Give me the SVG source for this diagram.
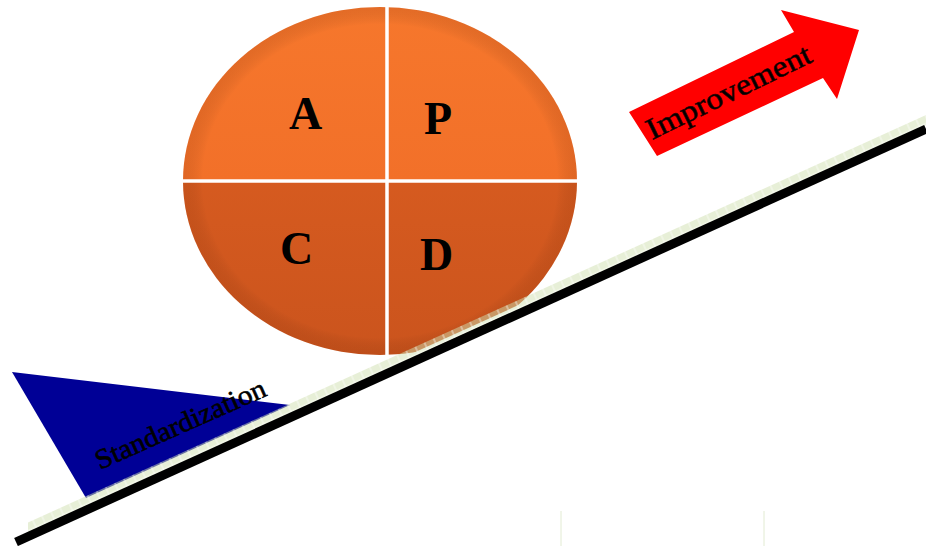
<svg xmlns="http://www.w3.org/2000/svg" width="926" height="546" viewBox="0 0 926 546">
  <defs>
    <linearGradient id="gTop" x1="0" y1="0" x2="0" y2="1">
      <stop offset="0" stop-color="#f6772c"/>
      <stop offset="1" stop-color="#ee6926"/>
    </linearGradient>
    <linearGradient id="gBot" x1="0" y1="0" x2="0" y2="1">
      <stop offset="0" stop-color="#e06122"/>
      <stop offset="1" stop-color="#cb541d"/>
    </linearGradient>
    <radialGradient id="gRim" cx="0.5" cy="0.5" r="0.5">
      <stop offset="0.9" stop-color="#000" stop-opacity="0"/>
      <stop offset="1" stop-color="#7a2a05" stop-opacity="0.15"/>
    </radialGradient>
    <clipPath id="clipTop"><rect x="150" y="0" width="460" height="181"/></clipPath>
    <clipPath id="clipBot"><rect x="150" y="181" width="460" height="200"/></clipPath>
    <pattern id="grid" width="10" height="10" patternUnits="userSpaceOnUse" patternTransform="rotate(-24.4)">
      <rect width="10" height="10" fill="#cfe0b0" fill-opacity="0.5"/>
      <path d="M0 5H10M5 0V10" stroke="#ffffff" stroke-width="1" stroke-opacity="0.7"/>
    </pattern>
    <style>
      .lbl { font-family: "Liberation Serif", "Times New Roman", serif; fill: #000; }
      .big { font-size: 46px; font-weight: bold; }
      .sep { stroke: #ffffff; stroke-width: 3.5; }
      .heavy { stroke: currentColor; stroke-width: 0.6; }
    </style>
  </defs>

  <rect width="926" height="546" fill="#ffffff"/>

  <g id="standardization">
    <polygon points="12,372 290,405 86,498" fill="#000096"/>
  </g>

  <g id="pdca-circle">
    <ellipse cx="380" cy="181" rx="197" ry="174" fill="url(#gTop)" clip-path="url(#clipTop)"/>
    <ellipse cx="380" cy="181" rx="197" ry="174" fill="url(#gBot)" clip-path="url(#clipBot)"/>
    <ellipse cx="380" cy="181" rx="197" ry="174" fill="url(#gRim)"/>
    <line class="sep" x1="183" y1="181" x2="577" y2="181"/>
    <line class="sep" x1="387" y1="7" x2="387" y2="356"/>
    <text class="lbl big" x="289" y="129">A</text>
    <text class="lbl big" x="424" y="134">P</text>
    <text class="lbl big" x="280" y="264">C</text>
    <text class="lbl big" x="420" y="270">D</text>
  </g>

  <g id="slope">
    <polygon points="32,526 926,120 926,124 32,530" fill="#ffffff"/>
    <polygon points="28,522.5 926,115 926,125 28,532.5" fill="url(#grid)"/>
    <line x1="16" y1="542" x2="926" y2="129" stroke="#000000" stroke-width="9"/>
    <line x1="561" y1="511" x2="561" y2="546" stroke="#e2ebd2" stroke-width="1"/>
    <line x1="764" y1="511" x2="764" y2="546" stroke="#e2ebd2" stroke-width="1"/>
  </g>

  <g id="standardization-label" color="#000000">
    <text class="lbl heavy" font-size="28" x="100" y="470" transform="rotate(-24 100 470)" textLength="184" lengthAdjust="spacingAndGlyphs">Standardization</text>
  </g>

  <g id="improvement" color="#220000">
    <polygon points="629,112 794,32 781,10 859,30 837,99 823,78 657,156" fill="#ff0000"/>
    <text class="lbl heavy" font-size="30" x="652" y="140" transform="rotate(-26 652 140)" textLength="180" lengthAdjust="spacingAndGlyphs" fill="#220000">Improvement</text>
  </g>
</svg>
